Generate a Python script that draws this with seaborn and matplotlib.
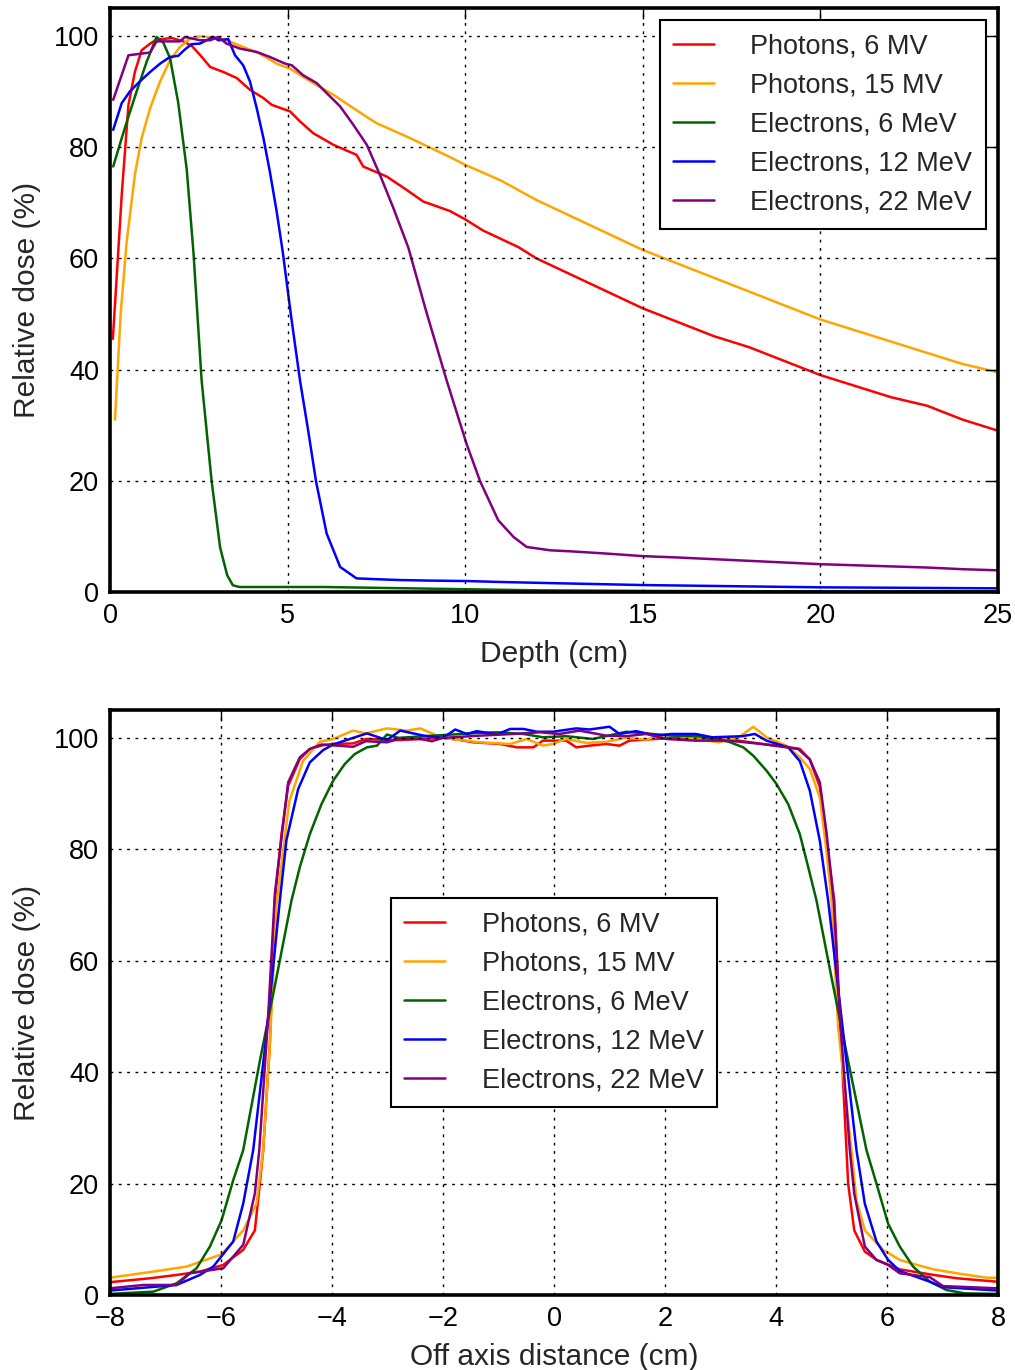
import numpy as np
import pandas as pd
import matplotlib
matplotlib.use("Agg")
import matplotlib.pyplot as plt
import seaborn as sns

# ---------------- data ----------------
series_names = ["Photons, 6 MV", "Photons, 15 MV", "Electrons, 6 MeV",
                "Electrons, 12 MeV", "Electrons, 22 MeV"]
series_colors = ["red", "orange", "darkgreen", "blue", "purple"]

# Depth dose curves
pdd_x_ph6 = [0.08, 0.23, 0.33, 0.52, 0.70, 0.89, 1.13, 1.31, 1.74, 2.06, 2.30, 2.53, 2.82, 3.19,
             3.57, 3.94, 4.32, 4.55, 5.07, 5.35, 5.72, 6.29, 6.94, 7.13, 7.79, 8.35, 8.82, 9.57,
             10, 10.5, 11, 11.5, 12, 13, 14, 15, 16, 17, 18, 19, 20, 21, 22, 23, 24, 25]
pdd_y_ph6 = [45.5, 61, 71.4, 87.6, 93.5, 97.4, 98.6, 99.3, 99.6, 99, 98.2, 96.6, 94.4, 93.5,
             92.4, 90.3, 88.8, 87.6, 86.4, 84.6, 82.5, 80.4, 78.6, 76.5, 74.7, 72.3, 70.2, 68.5,
             67, 65, 63.5, 62, 60, 57, 54, 51, 48.5, 46, 44, 41.5, 39, 37, 35, 33.5, 31, 29]

pdd_x_ph15 = [0.14, 0.3, 0.47, 0.7, 0.89, 1.13, 1.41, 1.69, 1.97, 2.25, 2.53, 2.9, 3.28, 3.75,
              4.22, 4.69, 5.07, 5.72, 6.29, 6.85, 7.5, 8.45, 9.57, 10, 11, 12, 13, 14, 15, 16,
              17, 18, 19, 20, 21, 22, 23, 24, 25]
pdd_y_ph15 = [31, 50, 63, 75, 81.6, 87, 91.8, 95.6, 98, 99.5, 99.9, 99.7, 99.2, 98,
              96.8, 95, 94.1, 91.5, 89.4, 87, 84.3, 81.6, 78.2, 76.8, 74, 70.5, 67.5, 64.5, 61.5, 59,
              56.5, 54, 51.5, 49, 47, 45, 43, 41, 39.5]

pdd_x_el6 = [0.09, 0.33, 0.52, 0.75, 1.03, 1.31, 1.5, 1.69, 1.92, 2.16, 2.35, 2.58, 2.86, 3.1,
             3.3, 3.46, 3.65, 4, 5, 6, 7, 8, 9, 10, 12, 15, 20, 25]
pdd_y_el6 = [76.5, 81.6, 85.5, 90, 95.3, 99.8, 98.8, 96, 88, 76, 61, 38, 20, 8,
             3, 1.2, 0.9, 0.9, 0.9, 0.9, 0.8, 0.7, 0.6, 0.5, 0.3, 0.2, 0.1, 0.1]

pdd_x_el12 = [0.09, 0.33, 0.56, 0.84, 1.13, 1.41, 1.69, 1.92, 2.1, 2.30, 2.53, 2.91, 3.05, 3.33,
              3.52, 3.75, 3.94, 4.13, 4.32, 4.50, 4.69, 4.86, 5.1, 5.35, 5.58, 5.80, 6.10, 6.48,
              6.94, 7.5, 8.16, 9, 10.04, 11, 12.39, 15, 20, 25]
pdd_y_el12 = [83.1, 87.9, 90, 91.8, 93.5, 95, 96.2, 96.4, 97.5, 98.5, 98.6, 99.8, 99.2, 99.4,
              96.5, 94.7, 91.8, 87, 81.6, 75.6, 68.5, 61.3, 49.5, 38, 29, 19.9, 10.5, 4.5,
              2.45, 2.3, 2.15, 2.05, 1.97, 1.8, 1.6, 1.25, 0.84, 0.66]

pdd_x_el22 = [0.09, 0.52, 1.13, 1.31, 1.97, 2.11, 2.53, 2.82, 3.05, 3.28, 3.66, 4.13, 4.50, 4.93,
              5.12, 5.44, 5.82, 6.10, 6.48, 6.85, 7.23, 7.60, 7.98, 8.40, 8.9, 9.48, 10.04, 10.42,
              10.93, 11.36, 11.73, 12.39, 13, 14, 15, 16, 17, 18, 19, 20, 21, 22, 23, 24, 25]
pdd_y_el22 = [88.5, 96.5, 97, 99, 99, 99.8, 99.2, 99.2, 99.8, 98.6, 97.7, 97.1, 96.2, 95,
              94.7, 92.9, 91.5, 89.7, 87.3, 84, 80.4, 75, 69, 61.9, 50.5, 38, 26.6, 19.9,
              12.9, 9.9, 8.1, 7.5, 7.3, 6.9, 6.45, 6.2, 5.9, 5.6, 5.3, 5.0, 4.8, 4.6, 4.4, 4.1, 3.9]

# Off-axis profiles
prof_x_ph6 = [-8, -7.28, -6.80, -6.38, -5.96, -5.60, -5.39, -5.30, -5.24, -5.12, -5.03, -4.91,
              -4.79, -4.58, -4.40, -4.16, -3.98, -3.62, -3.39, -2.8, -2.4, -2.0, -1.75, -1.45,
              -0.97, -0.67, -0.37, -0.2, 0.22, 0.4, 0.64, 0.94, 1.18, 1.36, 1.84, 2.13, 2.85,
              3.33, 3.75, 4.19, 4.43, 4.61, 4.79, 4.91, 5.05, 5.15, 5.27, 5.30, 5.41, 5.60, 5.81,
              6.23, 6.84, 7.26, 7.97]
prof_y_ph6 = [2.3, 3.0, 3.6, 4.2, 5.4, 8.1, 11.6, 20, 26, 45, 70.8, 82.7,
              91.4, 96.2, 98, 98.7, 98.9, 99, 99.8, 99.6, 99.8, 100, 99.7, 99.2,
              98.9, 98.3, 98.3, 99.5, 99.5, 98.3, 98.6, 98.9, 98.6, 99.5, 99.8, 100, 99.8,
              99.5, 98.9, 98.4, 98, 96.1, 91.2, 81.4, 70.8, 50, 26, 20, 11.6, 7.8, 6.3,
              4.6, 3.6, 3.0, 2.4]

prof_x_ph15 = [-8, -7.58, -7.22, -6.62, -5.99, -5.60, -5.36, -5.24, -5.12, -5.0, -4.77, -4.52,
               -4.22, -3.98, -3.62, -3.39, -3.01, -2.65, -2.41, -2.2, -2.0, -1.33, -0.79, -0.49,
               -0.2, -0.02, 0.22, 0.58, 0.94, 1.3, 1.66, 2.07, 2.37, 2.97, 3.33, 3.59, 3.83,
               4.19, 4.43, 4.61, 4.79, 4.91, 5.0, 5.12, 5.36, 5.45, 5.60, 5.93, 6.23, 6.54,
               6.84, 7.32, 7.80, 8.0]
prof_y_ph15 = [3.1, 3.7, 4.2, 5.1, 7.3, 11.6, 16.4, 26, 45, 70, 88.6, 95.9,
               99.3, 99.8, 101.3, 100.8, 101.7, 101.3, 101.7, 100.8, 100, 99.2, 98.9, 99.8,
               98.6, 98.9, 99.8, 99.1, 99.3, 100, 99.7, 100.7, 100.1, 99.2, 100.1, 102, 100.1,
               98.6, 96.5, 94.4, 89.3, 79.7, 70.8, 48, 26, 17, 11.6, 8.1, 6.3, 5.4,
               4.6, 3.8, 3.1, 3.1]

prof_x_el6 = [-8, -7.22, -6.8, -6.44, -6.20, -5.99, -5.78, -5.60, -5.3, -5.0, -4.73, -4.58,
              -4.40, -4.19, -3.98, -3.77, -3.59, -3.37, -3.19, -3.01, -2.8, -2.17, -1.33, -1.03,
              -0.55, -0.2, 0.22, 0.7, 1.3, 2.13, 2.61, 3.15, 3.41, 3.59, 3.83, 4.01, 4.22,
              4.43, 4.58, 4.73, 5.0, 5.3, 5.63, 5.81, 6.02, 6.23, 6.47, 6.77, 7.07, 7.4, 8.0]
prof_y_el6 = [0.2, 0.6, 2.1, 4.8, 8.7, 13.4, 20.6, 26, 42, 57, 70.8, 76.8,
              82.7, 88.1, 92.3, 95.3, 97.1, 98.3, 98.6, 100.6, 100, 100.4, 100.9, 101,
              100.7, 100.1, 100.3, 99.8, 101.1, 100.4, 100.3, 99.3, 98.3, 96.8, 94.1, 91.7, 88.1,
              82.7, 76.8, 70.8, 57, 42, 26, 20, 12.8, 8.7, 5.1, 2.4, 0.9, 0.3, 0.2]

prof_x_el12 = [-8, -7.4, -6.8, -6.38, -6.14, -5.78, -5.60, -5.42, -5.2, -4.94, -4.82, -4.61,
               -4.40, -4.16, -3.98, -3.68, -3.37, -3.01, -2.77, -2.35, -2.0, -1.78, -1.57, -1.39,
               -1.03, -0.79, -0.55, -0.31, -0.02, 0.4, 0.64, 1.0, 1.18, 1.48, 1.84, 2.13, 2.55,
               2.85, 3.39, 3.62, 3.83, 4.22, 4.43, 4.61, 4.79, 4.94, 5.2, 5.45, 5.60, 5.81,
               6.02, 6.23, 6.77, 7.01, 8.0]
prof_y_el12 = [0.8, 1.3, 1.8, 3.6, 5.1, 9.6, 16.4, 26, 45, 70.8, 81.7, 90.8,
               95.6, 97.8, 98.8, 99.8, 100.8, 99.6, 101.3, 100.4, 100, 101.5, 100.7, 101.2,
               100.6, 101.6, 101.6, 101.1, 101.1, 101.7, 101.5, 102, 100.7, 101.2, 100.4, 100.7, 100.7,
               100.1, 100.3, 100.7, 99.5, 98.3, 95.8, 90.5, 81.5, 70.8, 48, 26, 16.4, 9.6,
               6.3, 4.3, 2.4, 1.4, 0.8]

prof_x_el22 = [-8, -7.4, -6.8, -6.56, -5.96, -5.60, -5.39, -5.31, -5.15, -5.03, -4.79, -4.58,
               -4.40, -4.19, -3.62, -3.39, -3.01, -2.8, -2.41, -2.2, -2.0, -1.33, -0.73, -0.25,
               0.1, 0.46, 0.94, 1.3, 1.66, 2.02, 2.55, 3.15, 3.75, 4.40, 4.61, 4.79, 4.91,
               5.04, 5.15, 5.33, 5.41, 5.60, 5.81, 6.02, 6.23, 6.77, 7.01, 8.0]
prof_y_el22 = [1.2, 1.8, 1.8, 3.9, 4.8, 9.0, 18.2, 26, 50, 72, 92, 96.5,
               98, 98.8, 98.4, 99.4, 99.2, 99.8, 99.8, 99.4, 100, 100.4, 100.7, 101,
               100.7, 101.3, 100.4, 100.3, 100.7, 99.8, 99.5, 99.5, 98.9, 98, 96.1, 92, 83,
               70.8, 50, 26, 18.2, 8.7, 6.3, 5.4, 3.9, 3.2, 1.6, 1.2]

depth_ticks = [0, 5, 10, 15, 20, 25]
offaxis_ticks = [-8, -6, -4, -2, 0, 2, 4, 6, 8]
dose_ticks = [0, 20, 40, 60, 80, 100]

pdd_sets = [(pdd_x_ph6, pdd_y_ph6), (pdd_x_ph15, pdd_y_ph15), (pdd_x_el6, pdd_y_el6),
            (pdd_x_el12, pdd_y_el12), (pdd_x_el22, pdd_y_el22)]
prof_sets = [(prof_x_ph6, prof_y_ph6), (prof_x_ph15, prof_y_ph15), (prof_x_el6, prof_y_el6),
             (prof_x_el12, prof_y_el12), (prof_x_el22, prof_y_el22)]


def long_frame(sets, xname):
    frames = []
    for name, (xs, ys) in zip(series_names, sets):
        frames.append(pd.DataFrame({xname: xs, "dose": ys, "series": name}))
    return pd.concat(frames, ignore_index=True)


df_pdd = long_frame(pdd_sets, "x")
df_prof = long_frame(prof_sets, "x")

# ---------------- style ----------------
sns.set_style("white")
plt.rcParams["font.family"] = ["Liberation Sans", "DejaVu Sans"]
plt.rcParams["axes.unicode_minus"] = True

W, H = 1015, 1370
fig = plt.figure(figsize=(W / 100, H / 100), dpi=100)
ax1 = fig.add_axes([110 / W, 1 - 592 / H, 888 / W, 584 / H])
ax2 = fig.add_axes([110 / W, 1 - 1295 / H, 888 / W, 585 / H])

palette = dict(zip(series_names, series_colors))


def draw(ax, df, xlim, xticks, xlabel, legend_kw):
    sns.lineplot(data=df, x="x", y="dose", hue="series", hue_order=series_names,
                 palette=palette, estimator=None, errorbar=None, sort=False,
                 linewidth=1.8, ax=ax)
    leg = ax.get_legend()
    handles = leg.legend_handles
    labels = [t.get_text() for t in leg.get_texts()]
    leg.remove()
    for h in handles:
        h.set_linewidth(1.8)
    lg = ax.legend(handles, labels, fontsize=19.5, frameon=True, fancybox=False,
                   edgecolor="black", framealpha=1, handlelength=1.5,
                   handletextpad=1.35, labelspacing=0.48, borderpad=0.5,
                   borderaxespad=0.45, **legend_kw)
    lg.get_frame().set_linewidth(1.5)
    ax.set_xlim(*xlim)
    ax.set_ylim(0, 105)
    ax.set_xticks(xticks)
    ax.set_yticks(dose_ticks)
    ax.grid(True, color="black", linestyle=(0, (2, 4)), linewidth=1.0)
    ax.set_axisbelow(False)
    ax.tick_params(direction="in", top=True, right=True, length=8, width=1,
                   labelsize=19.5, pad=8, colors="black")
    for sp in ax.spines.values():
        sp.set_linewidth(2.6)
        sp.set_color("black")
        sp.set_visible(True)
    ax.set_xlabel(xlabel, fontsize=21.5, labelpad=8)
    ax.set_ylabel("Relative dose (%)", fontsize=21.5, labelpad=9)


draw(ax1, df_pdd, (0, 25), depth_ticks, "Depth (cm)", dict(loc="upper right"))
draw(ax2, df_prof, (-8, 8), offaxis_ticks, "Off axis distance (cm)", dict(loc="center"))

fig.savefig("out.png", dpi=100)
